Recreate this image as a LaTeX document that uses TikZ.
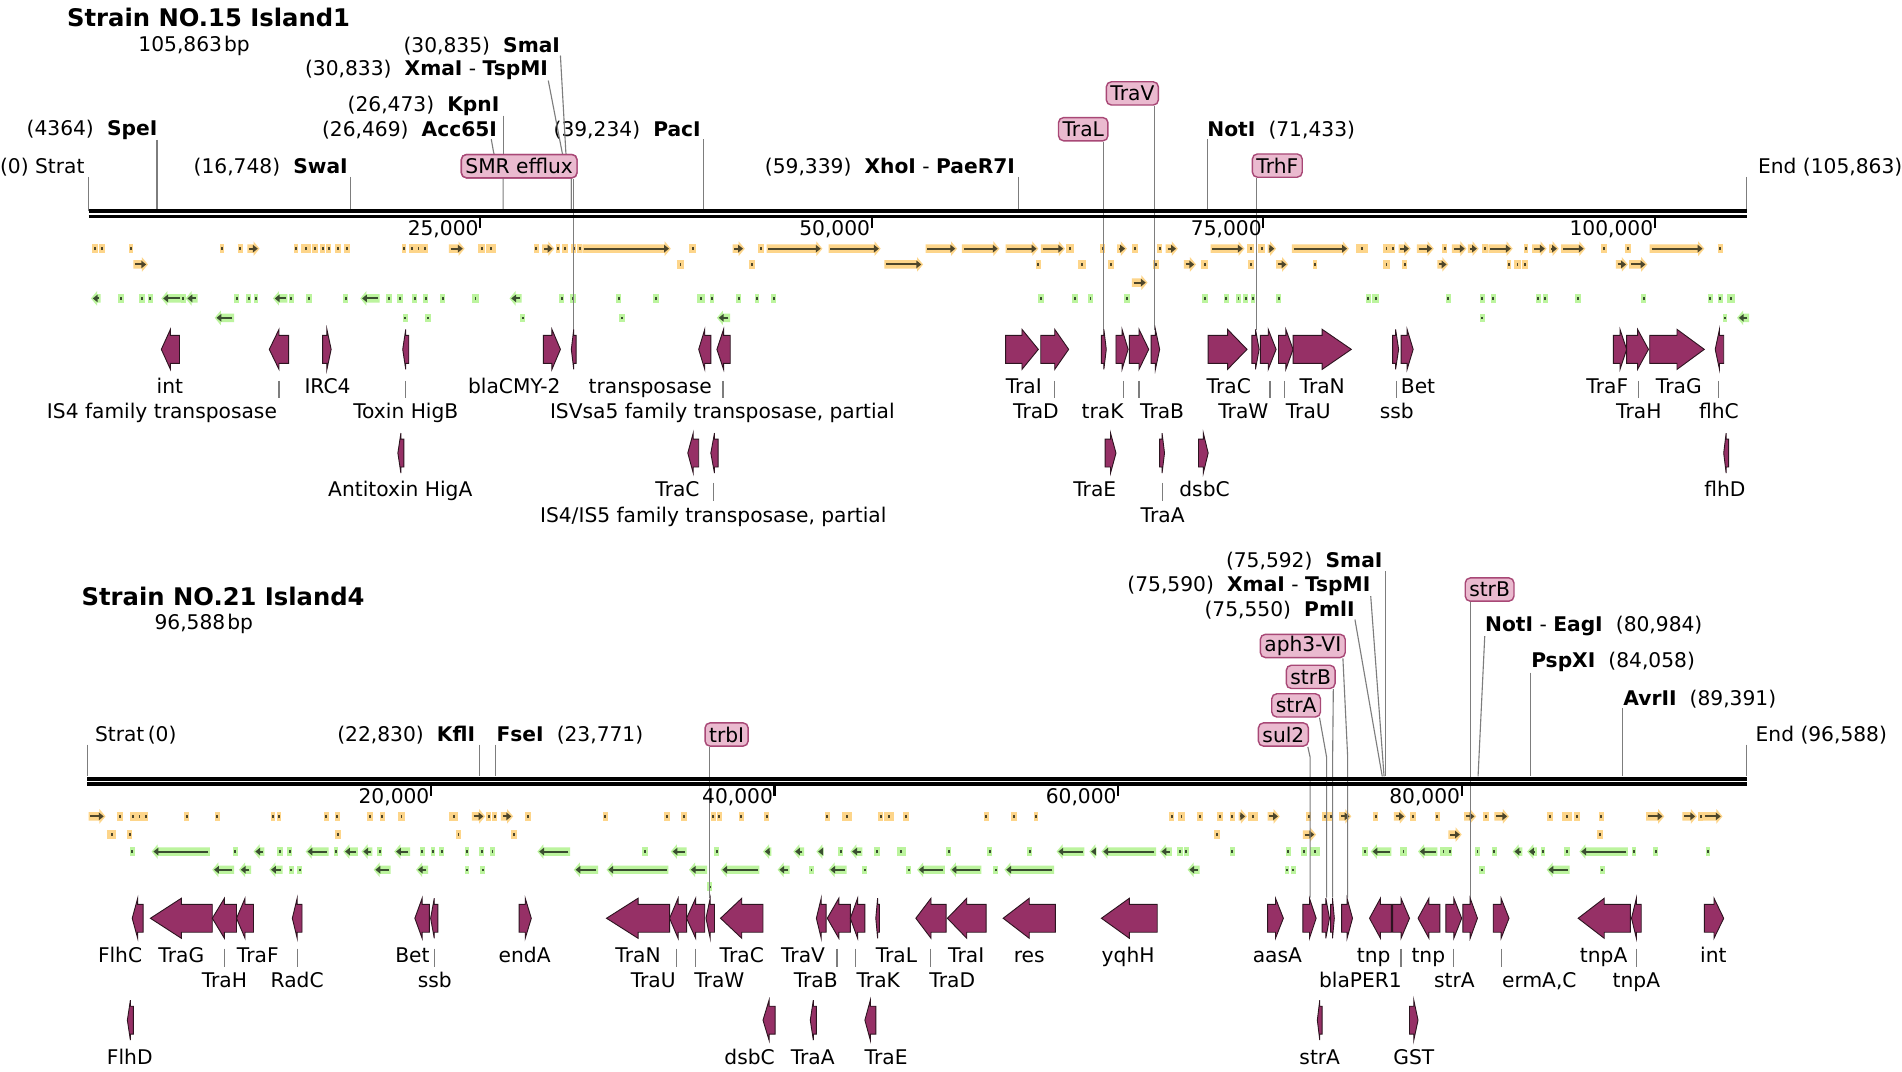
\documentclass[tikz,border=0pt]{standalone}
\usepackage{fontspec}
\setmainfont{DejaVu Sans}
\usepackage{tikz}

\definecolor{genefill}{RGB}{150,48,102}
\definecolor{geneedge}{RGB}{45,20,32}
\definecolor{boxfill}{RGB}{234,186,207}
\definecolor{boxedge}{RGB}{168,72,118}
\definecolor{orfbg}{RGB}{253,213,138}
\definecolor{orffg}{RGB}{78,70,42}
\definecolor{revbg}{RGB}{188,244,158}
\definecolor{revfg}{RGB}{58,78,48}
\definecolor{sitegray}{RGB}{125,125,125}

\newcommand{\lblfont}{\fontsize{10}{12}\selectfont}
\newcommand{\titlefont}{\fontsize{12}{14}\selectfont\bfseries}

% gene arrows: x1, x2, y
\newcommand{\generight}[3]{%
  \filldraw[gene] (#1,#3-11.5) -- ({(#1+#2)/2},#3-11.5) -- ({(#1+#2)/2},#3-16.5) -- (#2,#3)
    -- ({(#1+#2)/2},#3+16.5) -- ({(#1+#2)/2},#3+11.5) -- (#1,#3+11.5) -- cycle;}
\newcommand{\geneleft}[3]{%
  \filldraw[gene] (#2,#3-11.5) -- ({(#1+#2)/2},#3-11.5) -- ({(#1+#2)/2},#3-16.5) -- (#1,#3)
    -- ({(#1+#2)/2},#3+16.5) -- ({(#1+#2)/2},#3+11.5) -- (#2,#3+11.5) -- cycle;}

% track features: x1, x2, y, colour prefix
\newcommand{\fwdorf}[4]{%
  \fill[#4bg] (#1,#3-3.5) -- (#2-5,#3-3.5) -- (#2-5,#3-6) -- (#2,#3) -- (#2-5,#3+6) -- (#2-5,#3+3.5) -- (#1,#3+3.5) -- cycle;
  \draw[#4fg,line width=1pt] (#1+1.5,#3) -- (#2-4,#3);
  \fill[#4fg] (#2-5.5,#3-3.2) -- (#2-1.5,#3) -- (#2-5.5,#3+3.2) -- cycle;}
\newcommand{\revorf}[4]{%
  \fill[#4bg] (#2,#3-3.5) -- (#1+5,#3-3.5) -- (#1+5,#3-6) -- (#1,#3) -- (#1+5,#3+6) -- (#1+5,#3+3.5) -- (#2,#3+3.5) -- cycle;
  \draw[#4fg,line width=1pt] (#2-1.5,#3) -- (#1+4,#3);
  \fill[#4fg] (#1+5.5,#3-3.2) -- (#1+1.5,#3) -- (#1+5.5,#3+3.2) -- cycle;}
% block: centre x, width, y, colour prefix
\newcommand{\orfblk}[4]{%
  \fill[#4bg] (#1-#2/2-1,#3-3.5) rectangle (#1+#2/2+1,#3+3.5);
  \fill[#4fg] (#1-0.8,#3-1) rectangle (#1+0.8,#3+1);}

\begin{document}
\begin{tikzpicture}[x=0.6pt, y=-0.6pt,
  gene/.style={fill=genefill, draw=geneedge, line width=0.45pt},
  glabel/.style={inner sep=0pt, font=\lblfont, text height=7.6pt, text depth=0pt},
  site/.style={inner sep=0pt, font=\lblfont},
  siteline/.style={draw=sitegray, line width=0.55pt},
  featbox/.style={draw=boxedge, fill=boxfill, rounded corners=2.5pt, line width=0.7pt, inner xsep=2pt, inner ysep=0pt, minimum height=11.5pt, font=\lblfont},
  backbone/.style={line width=1.9pt},
  scaletick/.style={line width=1.1pt},
  paneltitle/.style={inner sep=0pt, font=\titlefont}]

\fill[white] (0,0) rectangle (1568,883);
\useasboundingbox (0,0) rectangle (1568,883);

%%%%%%%%%%%%%%%% Strain NO.15 Island1
\node[paneltitle, anchor=west] (title1) at (55,14) {Strain NO.15 Island1};
\node[site] (len1) at (160,38) {105,863\kern1pt bp};

% tracks
\foreach \a/\b in {78/3,84/3,108/2,183/2,198/2,244/2,252/6,260/3,266/2,271/2,279/3,286/3,333/2,340/3,345/3,350/3,397/4,405/6,442/2,460/2,466/3,473/2,478/2,571/4,627/3,882/4,909/2,936/3,956/2,1031/4,1040/4,1123/8,1143/3,1148/2,1191/2,1224/3,1258/2,1322/3,1342/3,1418/2}
  {\orfblk{\a}{\b}{205}{orf}}
\foreach \a/\b in {204/214,370/383,447/457,480/553,604/614,632/678,683/726,763/789,793/824,829/856,858/878,921/929,961/971,998/1026,1045/1052,1065/1112,1153/1163,1168/1182,1197/1209,1210/1219,1227/1247,1263/1275,1277/1285,1287/1307,1360/1405}
  {\fwdorf{\a}{\b}{205}{orf}}
\foreach \a/\b in {561/4,620/3,856/2,892/4,916/3,953/3,993/4,1031/3,1084/2,1143/3,1158/2,1244/2,1251/3,1257/3}
  {\orfblk{\a}{\b}{218}{orf}}
\foreach \a/\b in {110/122,729/761,976/986,1052/1062,1185/1194,1332/1342,1343/1358}
  {\fwdorf{\a}{\b}{218}{orf}}
\fwdorf{933}{946}{233}{orf}
\foreach \a/\b in {100/3,117/3,124/2,151/2,195/2,205/2,211/2,240/2,255/3,285/2,321/3,330/3,342/2,351/2,365/2,392/3,463/2,472/3,510/2,541/3,578/4,587/2,609/2,624/2,638/2,858/3,886/3,899/2,929/3,993/3,1011/2,1021/2,1027/2,1033/2,1054/2,1128/2,1134/4,1194/2,1222/2,1231/2,1268/2,1274/2,1301/3,1355/2,1410/2,1418/2,1427/4}
  {\orfblk{\a}{\b}{246}{rev}}
\foreach \a/\b in {75/83,133/150,153/163,225/237,297/313,420/430}
  {\revorf{\a}{\b}{246}{rev}}
\foreach \a/\b in {334/2,353/3,431/2,513/3,1222/2,1422/2}
  {\orfblk{\a}{\b}{262}{rev}}
\foreach \a/\b in {177/193,591/602,1432/1442}
  {\revorf{\a}{\b}{262}{rev}}

% sites
\node[site, anchor=east] (sStrat) at (70,138) {(0) Strat};
\node[site, anchor=east] (sSpe) at (130,107) {(4364)\hspace{0.65em}\textbf{SpeI}};
\node[site, anchor=east] (sSwa) at (287,138) {(16,748)\hspace{0.65em}\textbf{SwaI}};
\node[site, anchor=east] (sAcc) at (410,107) {(26,469)\hspace{0.65em}\textbf{Acc65I}};
\node[site, anchor=east] (sKpn) at (412,87) {(26,473)\hspace{0.65em}\textbf{KpnI}};
\node[site, anchor=east] (sXma) at (452,58) {(30,833)\hspace{0.65em}\textbf{XmaI} - \textbf{TspMI}};
\node[site, anchor=east] (sSma) at (462,38) {(30,835)\hspace{0.65em}\textbf{SmaI}};
\node[site, anchor=east] (sPac) at (578,107) {(39,234)\hspace{0.65em}\textbf{PacI}};
\node[site, anchor=east] (sXho) at (837,138) {(59,339)\hspace{0.65em}\textbf{XhoI} - \textbf{PaeR7I}};
\node[site, anchor=west] (sNot) at (995,107) {\textbf{NotI}\hspace{0.65em}(71,433)};
\node[site, anchor=west] (sEnd) at (1449,138) {End (105,863)};

\coordinate (pStrat) at (73,174);
\coordinate (pSpe) at (129.4,174);
\coordinate (pSwa) at (289.3,174);
\coordinate (pAcc) at (414.8,174);
\coordinate (pKpn) at (414.8,174);
\coordinate (pXma) at (471,174);
\coordinate (pSma) at (471,174);
\coordinate (pPac) at (579.6,174);
\coordinate (pXho) at (839.3,174);
\coordinate (pNot) at (995.4,174);
\coordinate (pEnd) at (1440,174);
\coordinate (kAcc) at (407,126);
\coordinate (kXma) at (463.5,126);
\coordinate (kSma) at (466.5,126);

\node[featbox] (bSMR) at (428,137) {SMR efflux};
\node[featbox] (bTraL) at (893,106.5) {TraL};
\node[featbox] (bTraV) at (933.5,77) {TraV};
\node[featbox] (bTrhF) at (1053,136.5) {TrhF};

\coordinate (gSMR) at (473,272);
\coordinate (gTraL) at (910,272);
\coordinate (gTraV) at (952,272);
\coordinate (gTrhF) at (1036,272);

\begin{scope}[siteline]
\draw (pStrat |- sStrat.south) -- (pStrat);
\draw (pSpe |- sSpe.south) -- (pSpe);
\draw (pSwa |- sSwa.south) -- (pSwa);
\draw ([xshift=-3pt]sAcc.south east) -- (kAcc) -- (pAcc |- bSMR.south) -- (pAcc);
\draw (pKpn |- sKpn.south) -- (pKpn |- bSMR.north);
\draw (sXma.south east) -- (kXma) -- (pXma |- bSMR.south) -- (pXma);
\draw (sSma.south east) -- (kSma) -- (pSma |- bSMR.south) -- (pSma);
\draw (pPac |- sPac.south) -- (pPac);
\draw (pXho |- sXho.south) -- (pXho);
\draw (pNot |- sNot.south) -- (pNot);
\draw (pEnd |- sEnd.south) -- (pEnd);
\draw (gSMR |- bSMR.south) -- (gSMR);
\draw (gTraL |- bTraL.south) -- (gTraL);
\draw (gTraV |- bTraV.south) -- (gTraV);
\draw (gTrhF |- bTrhF.south) -- (gTrhF);
\end{scope}
\node[featbox] at (bSMR) {SMR efflux};

\draw[backbone] (73,174) -- (1440,174);
\draw[backbone] (73,178.5) -- (1440,178.5);
\foreach \x/\t in {395.8/{25,000},718.6/{50,000},1041.4/{75,000},1364.2/{100,000}} {
  \draw[scaletick] (\x,180) -- (\x,188);
  \node[site, anchor=east] at (\x-1,189) {\t};
}

% genes
\geneleft{133}{148}{288}   \geneleft{222}{238}{288}   \generight{266}{273}{288}
\geneleft{332}{337}{288}   \generight{448}{462}{288}  \geneleft{471}{475}{288}
\geneleft{576}{586}{288}   \geneleft{591}{602}{288}   \generight{829}{856}{288}
\generight{858}{881}{288}  \generight{908}{912}{288}  \generight{920}{930}{288}
\generight{931}{947}{288}  \generight{949}{956}{288}  \generight{996}{1028}{288}
\generight{1032}{1038}{288} \generight{1039}{1052}{288} \generight{1054}{1066}{288}
\generight{1066}{1114}{288} \generight{1148}{1153}{288} \generight{1155}{1165}{288}
\generight{1330}{1341}{288} \generight{1341}{1359}{288} \generight{1360}{1405}{288}
\geneleft{1414}{1421}{288}
\geneleft{328}{333}{373.5}  \geneleft{567}{576}{373.5}  \geneleft{586}{592}{373.5}
\generight{911}{920}{373.5} \generight{956}{960}{373.5} \generight{988}{996}{373.5}
\geneleft{1421}{1425}{373.5}

\foreach \x in {230,334,596,869,926,939,1047,1059,1151,1351,1417}
  \draw[siteline] (\x,314) -- (\x,328);
\foreach \x in {588,958.7}
  \draw[siteline] (\x,398) -- (\x,413);

\node[glabel] (lint) at (140,318) {int};
\node[glabel] (lIRC) at (270,318) {IRC4};
\node[glabel] (lbla) at (424,318) {blaCMY-2};
\node[glabel] (ltnp) at (536,318) {transposase};
\node[glabel] (lTraI) at (844,318) {TraI};
\node[glabel] (lTraC) at (1013,318) {TraC};
\node[glabel] (lTraN) at (1090,318) {TraN};
\node[glabel] (lBet) at (1169,318) {Bet};
\node[glabel] (lTraF) at (1325,318) {TraF};
\node[glabel] (lTraG) at (1384,318) {TraG};
\node[glabel] (lIS4) at (133.5,339) {IS4 family transposase};
\node[glabel] (lHigB) at (334.5,339) {Toxin HigB};
\node[glabel] (lISV) at (595.5,339) {ISVsa5 family transposase, partial};
\node[glabel] (lTraD) at (854,339) {TraD};
\node[glabel] (ltraK) at (909,339) {traK};
\node[glabel] (lTraB) at (958,339) {TraB};
\node[glabel] (lTraW) at (1025,339) {TraW};
\node[glabel] (lTraU) at (1078.5,339) {TraU};
\node[glabel] (lssb) at (1151.5,339) {ssb};
\node[glabel] (lTraH) at (1351,339) {TraH};
\node[glabel] (lflhC) at (1417,339) {flhC};
\node[glabel] (lHigA) at (330,403) {Antitoxin HigA};
\node[glabel] (lTraC2) at (558.5,403) {TraC};
\node[glabel] (lTraE) at (902.5,403) {TraE};
\node[glabel] (ldsbC) at (993,403) {dsbC};
\node[glabel] (lflhD) at (1422,403) {flhD};
\node[glabel] (lIS45) at (588,424) {IS4/IS5 family transposase, partial};
\node[glabel] (lTraA) at (958.5,424) {TraA};

%%%%%%%%%%%%%%%% Strain NO.21 Island4
\node[paneltitle, anchor=west] (title2) at (67,492) {Strain NO.21 Island4};
\node[site] (len2) at (168,514) {96,588\kern1pt bp};

% tracks
\foreach \a/\b in {99/3,110/3,115/3,120/2,154/2,179/2,225/2,230/2,269/2,278/2,305/3,315/2,331/3,374/5,403/2,408/2,435/3,499/2,550/3,564/3,588/2,593/2,611/2,632/2,682/2,698/6,726/2,733/6,747/3,813/2,836/3,854/2,966/2,974/3,989/3,1006/3,1016/2,1033/6,1079/2,1092/3,1097/2,1134/2,1165/3,1185/2,1225/3,1278/3,1292/6,1300/3,1320/2,1402/2}
  {\orfblk{\a}{\b}{673}{orf}}
\foreach \a/\b in {73/87,389/400,413/423,1021/1028,1045/1055,1104/1114,1149/1159,1207/1217,1232/1244,1357/1372,1387/1399,1404/1420}
  {\fwdorf{\a}{\b}{673}{orf}}
\foreach \a/\b in {92/6,107/2,279/3,378/2,424/3,1003/3,1319/3}
  {\orfblk{\a}{\b}{688}{orf}}
\foreach \a/\b in {1074/1085,1194/1205}
  {\fwdorf{\a}{\b}{688}{orf}}
\foreach \a/\b in {109/2,194/2,231/3,239/2,277/2,313/2,348/2,357/2,364/2,385/2,397/2,406/2,532/3,591/2,693/2,723/3,743/5,782/2,816/2,849/2,973/3,978/2,1016/2,1062/2,1075/3,1084/6,1125/3,1157/3,1190/3,1195/2,1218/2,1232/2,1272/2,1292/3,1347/2,1365/2,1408/2}
  {\orfblk{\a}{\b}{702}{rev}}
\foreach \a/\b in {125/173,209/218,252/271,283/295,298/307,325/338,443/470,553/566,629/636,654/663,673/679,701/711,871/894,898/904,908/953,956/966,1130/1147,1169/1185,1247/1255,1259/1267,1302/1342}
  {\revorf{\a}{\b}{702}{rev}}
\foreach \a/\b in {240/2,247/2,385/2,398/2,669/2,713/2,749/2,821/2,1061/2,1066/2,1222/3,1321/2}
  {\orfblk{\a}{\b}{717}{rev}}
\foreach \a/\b in {175/193,197/207,222/233,308/322,343/353,473/493,500/551,568/583,594/626,641/651,683/698,756/779,783/809,828/869,979/989,1275/1294}
  {\revorf{\a}{\b}{717}{rev}}
\orfblk{585}{2}{731}{rev}

% sites
\node[site, anchor=west] (sStrat2) at (78,606) {Strat\,(0)};
\node[site, anchor=east] (sKfl) at (392,606) {(22,830)\hspace{0.65em}\textbf{KflI}};
\node[site, anchor=west] (sFse) at (409,606) {\textbf{FseI}\hspace{0.65em}(23,771)};
\node[site, anchor=east] (sSma2) at (1140,463) {(75,592)\hspace{0.65em}\textbf{SmaI}};
\node[site, anchor=east] (sXma2) at (1130,483) {(75,590)\hspace{0.65em}\textbf{XmaI} - \textbf{TspMI}};
\node[site, anchor=east] (sPml) at (1117,503) {(75,550)\hspace{0.65em}\textbf{PmlI}};
\node[site, anchor=west] (sNot2) at (1224,516) {\textbf{NotI} - \textbf{EagI}\hspace{0.65em}(80,984)};
\node[site, anchor=west] (sPsp) at (1262,546) {\textbf{PspXI}\hspace{0.65em}(84,058)};
\node[site, anchor=west] (sAvr) at (1338,576) {\textbf{AvrII}\hspace{0.65em}(89,391)};
\node[site, anchor=west] (sEnd2) at (1447,606) {End (96,588)};

\coordinate (pStrat2) at (72,640);
\coordinate (pKfl) at (395.3,640);
\coordinate (pFse) at (408.7,640);
\coordinate (pSma2) at (1142.5,640);
\coordinate (pXma2) at (1141,640);
\coordinate (pPml) at (1139.5,640);
\coordinate (pNot2) at (1218.5,640);
\coordinate (pPsp) at (1261.5,640);
\coordinate (pAvr) at (1337.5,640);
\coordinate (pEnd2) at (1440,640);

\node[featbox] (btrbI) at (599,605.5) {trbI};
\node[featbox] (baph) at (1074,532.5) {aph3-VI};
\node[featbox] (bstrB) at (1080.5,558) {strB};
\node[featbox] (bstrA) at (1068.5,581.5) {strA};
\node[featbox] (bsul) at (1058,605.5) {sul2};
\node[featbox] (bstrB2) at (1228,486) {strB};

\coordinate (gtrbI) at (585,740);
\coordinate (gsul) at (1080,740);
\coordinate (gstrA) at (1093.6,740);
\coordinate (gstrB) at (1098.6,740);
\coordinate (gaph) at (1111,740);
\coordinate (gstrB2) at (1212,740);
\coordinate (kink) at (0,624);

\begin{scope}[siteline]
\draw (pStrat2 |- sStrat2.south) -- (pStrat2);
\draw (pKfl |- sKfl.south) -- (pKfl);
\draw (pFse |- sFse.south) -- (pFse);
\draw (pSma2 |- sSma2.south) -- (pSma2);
\draw (sXma2.south east) -- (pXma2);
\draw (sPml.south east) -- (pPml);
\draw (sNot2.south west) -- (pNot2);
\draw (pPsp |- sPsp.south) -- (pPsp);
\draw (pAvr |- sAvr.south) -- (pAvr);
\draw (pEnd2 |- sEnd2.south) -- (pEnd2);
\draw (gtrbI |- btrbI.south) -- (gtrbI);
\draw ([xshift=-1.5pt]baph.south east) -- (gaph |- kink) -- (gaph);
\draw ([xshift=-1.2pt]bstrB.south east) -- (gstrB |- kink) -- (gstrB);
\draw ([xshift=-0.8pt]bstrA.south east) -- (gstrA |- kink) -- (gstrA);
\draw ([xshift=-0.6pt]bsul.south east) -- (gsul |- kink) -- (gsul);
\draw (gstrB2 |- bstrB2.south) -- (gstrB2);
\end{scope}

\draw[backbone] (72,642) -- (1440,642);
\draw[backbone] (72,646.5) -- (1440,646.5);
\foreach \x/\t in {355.3/{20,000},638.5/{40,000},921.8/{60,000},1205/{80,000}} {
  \draw[scaletick] (\x,648) -- (\x,656);
  \node[site, anchor=east] at (\x-1,657) {\t};
}

% genes
\geneleft{109}{118}{757}   \geneleft{124}{175}{757}   \geneleft{175}{195}{757}
\geneleft{195}{209}{757}   \geneleft{241}{249}{757}   \geneleft{342}{354}{757}
\geneleft{355}{361}{757}   \generight{428}{438}{757}  \geneleft{500}{552}{757}
\geneleft{552}{566}{757}   \geneleft{566}{581}{757}   \geneleft{582}{589}{757}
\geneleft{594}{629}{757}   \geneleft{673}{681}{757}   \geneleft{682}{701}{757}
\geneleft{701}{713}{757}   \geneleft{722}{725}{757}   \geneleft{755}{780}{757}
\geneleft{781}{813}{757}   \geneleft{827}{870}{757}   \geneleft{908}{954}{757}
\generight{1045}{1058}{757} \generight{1074}{1085}{757} \generight{1090}{1096}{757}
\generight{1097}{1100}{757} \generight{1106}{1115}{757} \geneleft{1129}{1147}{757}
\generight{1148}{1162}{757} \geneleft{1169}{1187}{757}  \generight{1192}{1205}{757}
\generight{1206}{1218}{757} \generight{1231}{1244}{757} \geneleft{1301}{1344}{757}
\geneleft{1345}{1353}{757}  \generight{1405}{1421}{757}
\geneleft{105}{110}{841}   \geneleft{629}{639}{841}   \geneleft{668}{673}{841}
\geneleft{713}{722}{841}   \geneleft{1086}{1090}{841} \generight{1162}{1169}{841}

\foreach \x in {185,245,358,558,573,690,705,767,1155,1198.6,1237.6,1349}
  \draw[siteline] (\x,782) -- (\x,797);

\node[glabel] (mFlhC) at (99,787) {FlhC};
\node[glabel] (mTraG) at (149.5,787) {TraG};
\node[glabel] (mTraF) at (212.5,787) {TraF};
\node[glabel] (mBet) at (340,787) {Bet};
\node[glabel] (mendA) at (432.5,787) {endA};
\node[glabel] (mTraN) at (526,787) {TraN};
\node[glabel] (mTraC) at (611.5,787) {TraC};
\node[glabel] (mTraV) at (662,787) {TraV};
\node[glabel] (mTraL) at (739,787) {TraL};
\node[glabel] (mTraI) at (796.5,787) {TraI};
\node[glabel] (mres) at (848.5,787) {res};
\node[glabel] (myqhH) at (930,787) {yqhH};
\node[glabel] (maasA) at (1053,787) {aasA};
\node[glabel] (mtnp) at (1132.5,787) {tnp};
\node[glabel] (mtnp2) at (1177.5,787) {tnp};
\node[glabel] (mtnpA) at (1322,787) {tnpA};
\node[glabel] (mint) at (1412.5,787) {int};
\node[glabel] (mTraH) at (185,808) {TraH};
\node[glabel] (mRadC) at (245,808) {RadC};
\node[glabel] (mssb) at (358.5,808) {ssb};
\node[glabel] (mTraU) at (538.5,808) {TraU};
\node[glabel] (mTraW) at (593,808) {TraW};
\node[glabel] (mTraB) at (672.5,808) {TraB};
\node[glabel] (mTraK) at (724,808) {TraK};
\node[glabel] (mTraD) at (785,808) {TraD};
\node[glabel] (mbla) at (1121.5,808) {blaPER1};
\node[glabel] (mstrA) at (1199,808) {strA};
\node[glabel] (merm) at (1269,808) {ermA,C};
\node[glabel] (mtnpA2) at (1349,808) {tnpA};
\node[glabel] (mFlhD) at (107,871) {FlhD};
\node[glabel] (mdsbC) at (618,871) {dsbC};
\node[glabel] (mTraA) at (670,871) {TraA};
\node[glabel] (mTraE) at (730.5,871) {TraE};
\node[glabel] (mstrA2) at (1088,871) {strA};
\node[glabel] (mGST) at (1165.5,871) {GST};
\end{tikzpicture}
\end{document}
